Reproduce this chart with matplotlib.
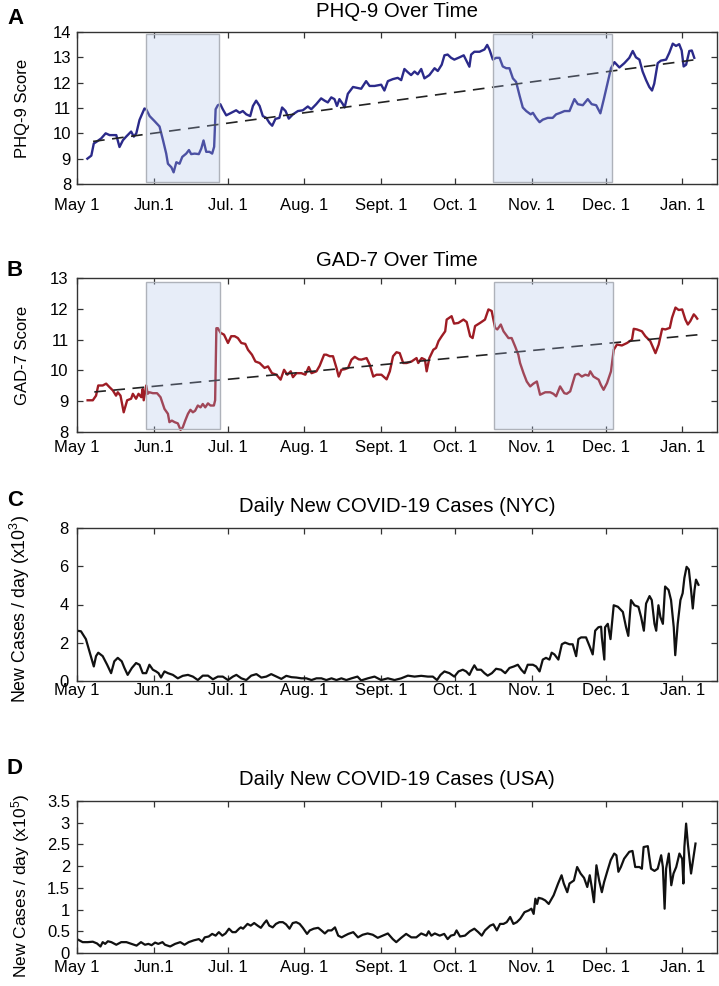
import matplotlib
matplotlib.use("Agg")
import matplotlib.pyplot as plt
from matplotlib.patches import Rectangle
import numpy as np

plt.rcParams['font.family'] = ['Liberation Sans', 'DejaVu Sans']
plt.rcParams['mathtext.fontset'] = 'custom'
plt.rcParams['mathtext.rm'] = 'Liberation Sans'
plt.rcParams['mathtext.it'] = 'Liberation Sans:italic'

# ---------------- data (days since May 1) ----------------
month_ticks = [0, 31, 61, 92, 123, 153, 184, 214, 245]
month_labels = ['May 1', 'Jun.1', 'Jul. 1', 'Aug. 1', 'Sept. 1', 'Oct. 1', 'Nov. 1', 'Dec. 1', 'Jan. 1']

phq_days = [4.2, 5.8, 6.8, 7.8, 9.8, 11.6, 13.2, 15.9, 17.2, 18.6, 19.9, 21.9, 23.0, 24.0, 25.3, 27.3, 28.0,
            29.4, 31.4, 33.4, 34.8, 36.1, 36.8, 38.2, 39.1, 40.2, 41.5, 42.6, 44.2, 45.3, 46.2, 47.6, 49.3,
            50.3, 51.2, 52.3, 53.6, 54.7, 55.5, 56.1, 57.0, 58.0, 59.0, 60.4, 62.4, 64.4, 65.8, 67.1, 68.5,
            70.1, 71.2, 72.5, 73.9, 75.2, 76.6, 77.9, 79.0, 80.3, 81.9, 83.0, 84.4, 85.7, 87.4, 89.4, 91.4,
            93.4, 94.8, 96.8, 98.8, 100.2, 101.5, 102.9, 104.2, 105.2, 106.2, 107.6, 108.3, 109.6, 111.7,
            113.6, 115.0, 117.0, 118.4, 120.4, 123.1, 124.4, 125.8, 127.8, 129.8, 131.2, 132.5, 133.9,
            135.2, 136.6, 137.9, 139.3, 140.6, 142.6, 144.7, 146.0, 147.6, 148.7, 150.0, 151.4, 152.7,
            154.8, 156.5, 158.1, 158.8, 159.5, 160.8, 162.9, 164.9, 166.0, 166.9, 168.3, 169.6, 171.0,
            172.3, 173.7, 175.0, 176.4, 177.7, 179.1, 180.4, 181.8, 183.6, 184.5, 185.8, 187.2, 188.5,
            190.5, 192.5, 193.9, 195.6, 197.3, 199.3, 201.3, 202.7, 204.7, 206.7, 208.3, 210.1, 211.8,
            213.2, 214.8, 216.1, 217.5, 219.5, 221.5, 223.5, 224.9, 226.2, 227.6, 228.9, 230.3, 231.6,
            232.7, 233.6, 235.0, 236.3, 238.4, 239.7, 241.1, 242.4, 243.7, 244.7, 245.5, 246.5, 247.8,
            248.8, 249.8]
phq_vals = [9.0, 9.12, 9.6, 9.66, 9.8, 10.0, 9.93, 9.93, 9.46, 9.73, 9.87, 10.07, 9.87, 10.0, 10.53, 10.98, 10.95,
            10.68, 10.48, 10.27, 9.73, 9.2, 8.8, 8.66, 8.46, 8.86, 8.8, 9.07, 9.2, 9.34, 9.18, 9.2, 9.18,
            9.4, 9.72, 9.27, 9.27, 9.2, 9.47, 10.95, 11.11, 11.15, 10.95, 10.71, 10.81, 10.91, 10.81, 10.88, 10.75,
            10.68, 11.08, 11.29, 11.08, 10.68, 10.61, 10.41, 10.3, 10.57, 10.61, 11.02, 10.88, 10.58, 10.75, 10.88, 10.91,
            11.06, 10.95, 11.15, 11.38, 11.29, 11.22, 11.42, 11.35, 11.08, 11.35, 11.15, 11.02, 11.56, 11.83,
            11.79, 11.76, 12.06, 11.87, 11.87, 11.92, 11.69, 12.06, 12.14, 12.19, 12.1, 12.54, 12.41,
            12.3, 12.44, 12.33, 12.54, 12.17, 12.3, 12.57, 12.46, 12.71, 13.08, 13.11, 12.98, 12.91,
            13.0, 13.08, 12.77, 12.63, 13.11, 13.22, 13.22, 13.31, 13.49, 13.31, 12.91, 12.98, 12.98,
            12.64, 12.57, 12.57, 12.17, 12.03, 11.49, 11.02, 10.88, 10.75, 10.81, 10.61, 10.44, 10.54,
            10.61, 10.61, 10.75, 10.81, 10.88, 10.88, 11.35, 11.15, 11.11, 11.35, 11.15, 11.11, 10.79,
            11.35, 12.03, 12.57, 12.81, 12.6, 12.77, 12.98, 13.25, 13.0, 12.91, 12.44, 12.1, 11.83,
            11.69, 11.96, 12.77, 12.87, 12.91, 13.18, 13.54, 13.45, 13.52, 13.27, 12.64, 12.71, 13.25,
            13.27, 12.98]

gad_days = [4.3, 6.4, 7.7, 8.6, 10.4, 11.8, 13.1, 14.5, 15.8, 16.5, 17.6, 18.9, 20.3, 21.9, 22.6, 23.9, 24.9,
            26.0, 26.6, 27.0, 28.0, 28.6, 29.3, 30.7, 32.4, 33.8, 35.4, 36.8, 37.4, 38.4, 39.5, 40.8, 41.9,
            42.8, 43.8, 44.9, 45.9, 46.9, 47.8, 48.9, 50.0, 50.9, 51.9, 53.0, 54.0, 55.4, 55.9, 56.4, 57.0,
            58.1, 59.5, 61.1, 62.4, 63.8, 65.1, 66.5, 68.1, 69.2, 70.8, 72.2, 73.9, 75.9, 77.3, 78.9, 80.7,
            82.4, 83.8, 85.1, 86.5, 87.4, 88.8, 90.8, 92.4, 93.8, 94.9, 96.9, 98.2, 100.0, 100.9, 102.3,
            103.6, 105.0, 105.9, 107.0, 108.4, 109.7, 111.1, 112.4, 114.0, 115.1, 117.2, 118.5, 119.9,
            121.2, 123.2, 125.3, 126.6, 127.9, 129.3, 130.6, 132.0, 133.4, 135.4, 137.4, 138.1, 139.5,
            140.8, 141.5, 142.6, 144.2, 145.3, 146.3, 147.6, 149.0, 149.6, 151.6, 152.6, 154.3, 156.4,
            157.7, 159.1, 160.1, 161.1, 163.1, 165.1, 166.5, 167.8, 169.2, 170.1, 171.5, 172.6, 174.6,
            175.9, 177.3, 178.6, 179.3, 180.7, 182.0, 183.4, 184.7, 186.1, 187.4, 189.5, 191.5, 192.8,
            193.9, 195.5, 197.2, 198.2, 199.6, 201.6, 202.9, 204.3, 205.7, 207.0, 207.7, 209.0, 211.1,
            212.0, 213.1, 214.5, 216.1, 217.2, 218.5, 220.5, 222.6, 224.6, 225.3, 226.6, 228.6, 230.0,
            232.0, 234.1, 235.4, 236.8, 238.1, 239.9, 240.8, 242.2, 243.5, 244.9, 246.2, 247.2, 248.2,
            249.6, 250.3, 251.0]
gad_vals = [9.03, 9.03, 9.18, 9.51, 9.51, 9.57, 9.46, 9.35, 9.18, 9.29, 9.18, 8.64, 9.03, 9.08, 9.24, 9.08, 9.24,
            9.13, 9.4, 9.03, 9.51, 9.24, 9.29, 9.26, 9.26, 9.13, 8.75, 8.59, 8.32, 8.37, 8.32, 8.28, 8.07,
            8.15, 8.37, 8.59, 8.72, 8.64, 8.69, 8.86, 8.8, 8.91, 8.8, 8.93, 8.86, 8.86, 9.03, 11.37, 11.37,
            11.22, 11.16, 10.89, 11.11, 11.11, 11.05, 10.89, 10.86, 10.67, 10.51, 10.29, 10.24, 10.08, 10.13, 9.91, 9.86,
            9.7, 10.02, 9.86, 9.97, 9.78, 9.91, 9.91, 9.86, 10.11, 9.91, 9.97, 10.15, 10.51, 10.51, 10.46,
            10.46, 10.08, 9.8, 10.02, 10.04, 10.08, 10.35, 10.44, 10.36, 10.35, 10.4, 10.18, 9.8,
            9.86, 9.86, 9.71, 9.97, 10.46, 10.59, 10.56, 10.24, 10.24, 10.29, 10.4, 10.24, 10.4,
            10.35, 9.97, 10.4, 10.67, 10.73, 10.95, 11.11, 11.27, 11.65, 11.76, 11.52, 11.54, 11.65,
            11.57, 11.11, 11.05, 11.44, 11.54, 11.65, 11.98, 11.93, 11.38, 11.33, 11.49, 11.27, 11.05,
            11.05, 10.78, 10.51, 10.24, 9.91, 9.64, 9.48, 9.57, 9.64, 9.21, 9.29, 9.29, 9.24,
            9.16, 9.48, 9.26, 9.24, 9.32, 9.86, 9.89, 9.8, 9.86, 9.83, 9.97, 9.8, 9.7,
            9.53, 9.37, 9.59, 9.97, 10.67, 10.84, 10.81, 10.89, 11.0, 11.35, 11.33, 11.27, 11.11,
            10.95, 10.56, 10.84, 11.35, 11.33, 11.38, 11.71, 12.04, 11.96, 11.98, 11.65, 11.49, 11.6,
            11.82, 11.76, 11.68]

trend_days = [6.5, 252.0]
phq_trend_vals = [9.68, 12.93]
gad_trend_days = [7.0, 253.0]
gad_trend_vals = [9.30, 11.17]

phq_windows = [(27.8, 57.5), (168.3, 216.4)]
gad_windows = [(28.0, 57.8), (168.8, 217.0)]

nyc_days = [0, 1.6, 3.6, 5.4, 6.8, 7.7, 8.6, 10.4, 12.2, 13.8, 15.1, 16.5, 18.1, 19.2, 20.5, 22.2, 23.9, 25.3,
            26.6, 28.0, 29.3, 30.7, 32.0, 33.0, 34.0, 35.4, 36.8, 38.8, 40.8, 42.8, 44.9, 46.9, 48.9, 50.9,
            53.0, 55.0, 57.0, 59.0, 61.1, 63.1, 64.5, 66.5, 68.5, 70.5, 72.6, 74.6, 76.6, 78.6, 80.7, 82.7,
            84.7, 86.8, 88.8, 90.8, 92.8, 94.9, 96.9, 98.9, 100.9, 103.0, 105.0, 107.0, 109.0, 111.1, 113.5,
            115.0, 117.7, 120.4, 123.1, 125.8, 128.5, 131.2, 133.9, 136.6, 139.3, 142.0, 144.0, 145.7,
            147.1, 148.7, 150.7, 152.7, 154.4, 156.1, 157.5, 158.8, 159.8, 160.8, 161.9, 163.5, 164.9,
            166.2, 167.9, 169.6, 171.6, 173.3, 175.0, 176.8, 178.4, 179.8, 181.1, 182.4, 184.5, 185.8,
            187.2, 188.5, 189.8, 191.2, 192.1, 193.2, 194.8, 196.2, 197.5, 199.3, 200.6, 202.0, 202.9,
            204.0, 206.0, 207.4, 208.7, 209.7, 211.0, 212.1, 212.4, 213.4, 213.7, 214.8, 215.9, 217.2,
            218.9, 220.9, 222.2, 223.1, 224.2, 225.6, 227.2, 228.3, 229.4, 230.3, 231.7, 232.6, 233.7,
            234.4, 235.3, 236.1, 237.1, 238.0, 239.4, 240.4, 241.5, 242.1, 243.1, 244.2, 245.1, 245.8,
            246.7, 247.6, 248.5, 249.2, 249.9, 250.5, 251.5]
nyc_vals = [2.63, 2.6, 2.19, 1.39, 0.76, 1.3, 1.48, 1.3, 0.85, 0.41, 1.03, 1.21, 1.03, 0.68, 0.32, 0.68, 0.94, 0.85,
            0.41, 0.41, 0.85, 0.59, 0.5, 0.41, 0.18, 0.5, 0.41, 0.32, 0.14, 0.27, 0.32, 0.23, 0.05, 0.28,
            0.28, 0.09, 0.23, 0.23, 0.05, 0.23, 0.32, 0.14, 0.05, 0.28, 0.36, 0.18, 0.23, 0.36, 0.23, 0.11,
            0.27, 0.2, 0.18, 0.14, 0.14, 0.05, 0.14, 0.14, 0.05, 0.14, 0.05, 0.14, 0.05, 0.14, 0.23,
            0.03, 0.14, 0.23, 0.05, 0.14, 0.05, 0.14, 0.28, 0.23, 0.27, 0.23, 0.23, 0.05,
            0.32, 0.5, 0.41, 0.23, 0.5, 0.59, 0.5, 0.32, 0.59, 0.82, 0.59, 0.59, 0.41,
            0.28, 0.41, 0.64, 0.59, 0.41, 0.68, 0.76, 0.85, 0.59, 0.41, 0.85, 0.85, 0.76,
            0.5, 1.12, 1.21, 1.12, 1.48, 1.39, 1.12, 1.92, 2.01, 1.92, 1.92, 1.3, 2.19,
            2.28, 2.28, 1.83, 1.39, 2.63, 2.81, 2.84, 2.28, 1.12, 2.81, 2.99, 2.19, 3.96,
            3.88, 3.61, 2.81, 2.36, 4.23, 3.96, 3.88, 3.34, 2.63, 4.05, 4.44, 4.23, 2.99,
            2.63, 3.96, 3.34, 2.99, 4.94, 4.76, 4.23, 2.81, 1.35, 2.99, 4.23, 4.59, 5.39,
            5.97, 5.83, 4.76, 3.79, 4.76, 5.3, 5.03]

usa_days = [0, 1.0, 2.3, 4.3, 6.4, 8.1, 9.5, 10.4, 11.4, 12.5, 13.9, 15.9, 17.9, 20.0, 22.0, 24.1, 25.9, 27.5,
            28.9, 30.2, 31.6, 32.9, 34.6, 35.6, 37.7, 39.7, 41.8, 43.5, 45.2, 47.2, 49.3, 50.6, 51.7, 53.3,
            54.7, 56.1, 57.4, 58.8, 60.1, 61.5, 62.9, 64.2, 65.6, 66.3, 67.2, 69.0, 70.3, 71.7, 73.1, 74.4,
            75.8, 76.7, 77.8, 79.2, 80.5, 81.9, 83.3, 84.6, 86.0, 87.3, 88.7, 90.1, 91.4, 93.1, 94.2, 95.8,
            97.6, 98.9, 100.3, 101.6, 103.0, 104.4, 105.7, 107.1, 108.4, 109.8, 111.8, 113.7, 115.6, 117.6,
            119.7, 121.7, 123.7, 125.8, 127.8, 129.2, 131.2, 133.2, 135.3, 137.3, 139.3, 141.4, 142.3,
            143.4, 144.8, 146.8, 148.6, 150.0, 151.3, 152.7, 153.6, 155.0, 157.0, 159.0, 160.8, 162.4,
            163.8, 165.1, 167.2, 168.5, 169.9, 171.2, 172.6, 173.9, 175.3, 176.6, 178.0, 179.4, 181.1,
            182.8, 183.9, 184.8, 185.5, 186.2, 186.8, 188.2, 189.5, 190.9, 192.9, 194.7, 196.1, 197.0,
            198.4, 199.3, 201.1, 202.4, 203.8, 205.2, 206.5, 207.5, 208.3, 209.2, 210.2, 211.3, 212.4,
            213.3, 214.7, 216.0, 217.4, 218.3, 219.1, 220.1, 221.4, 223.5, 224.8, 225.9, 227.6, 228.6,
            229.3, 231.0, 231.6, 232.3, 233.7, 235.0, 236.4, 237.1, 237.8, 238.4, 239.5, 240.5, 241.4,
            242.5, 243.8, 244.9, 245.4, 245.8, 246.5, 247.2, 248.5, 249.2, 250.3]
usa_vals = [0.32, 0.29, 0.25, 0.25, 0.26, 0.22, 0.15, 0.25, 0.21, 0.27, 0.25, 0.19, 0.25, 0.25, 0.21, 0.17, 0.25, 0.19,
            0.21, 0.18, 0.24, 0.21, 0.25, 0.19, 0.15, 0.21, 0.25, 0.19, 0.25, 0.29, 0.32, 0.26, 0.36, 0.38,
            0.44, 0.4, 0.48, 0.4, 0.45, 0.56, 0.48, 0.48, 0.56, 0.59, 0.56, 0.67, 0.63, 0.69, 0.63, 0.58,
            0.69, 0.75, 0.63, 0.59, 0.67, 0.71, 0.71, 0.66, 0.56, 0.69, 0.71, 0.67, 0.58, 0.44, 0.52, 0.56,
            0.58, 0.52, 0.45, 0.52, 0.52, 0.59, 0.4, 0.36, 0.4, 0.44, 0.48, 0.36, 0.42, 0.45,
            0.42, 0.35, 0.4, 0.45, 0.32, 0.25, 0.35, 0.44, 0.36, 0.36, 0.45, 0.4, 0.5,
            0.4, 0.45, 0.4, 0.44, 0.32, 0.4, 0.42, 0.52, 0.38, 0.4, 0.5, 0.56, 0.48,
            0.4, 0.52, 0.63, 0.66, 0.52, 0.67, 0.67, 0.71, 0.83, 0.67, 0.71, 0.79, 0.94,
            0.98, 1.02, 0.9, 1.25, 1.13, 1.27, 1.25, 1.21, 1.13, 1.33, 1.6, 1.79, 1.6,
            1.4, 1.6, 1.67, 1.98, 1.83, 1.73, 1.52, 1.79, 1.52, 1.17, 2.02, 1.67, 1.4,
            1.63, 1.9, 2.14, 2.29, 2.25, 1.87, 1.98, 2.17, 2.33, 2.35, 1.98, 1.98, 1.94,
            2.44, 2.46, 2.21, 1.94, 1.89, 1.94, 2.25, 1.98, 1.02, 1.94, 2.29, 1.56, 1.83,
            1.98, 2.29, 2.17, 1.6, 2.44, 2.98, 2.52, 1.83, 2.1, 2.52]

# ---------------- figure ----------------
W, H = 719, 986
fig = plt.figure(figsize=(W / 100, H / 100), dpi=100)

def make_ax(top_px, bot_px):
    left, right = 77, 717
    return fig.add_axes([left / W, 1 - bot_px / H, (right - left) / W, (bot_px - top_px) / H])

axA = make_ax(32, 184)
axB = make_ax(278, 432)
axC = make_ax(528, 681)
axD = make_ax(801, 953)

frame_col = '#333333'
TICK_FS = 12
TITLE_FS = 14.7

def style(ax, xpad, ypad):
    ax.set_xlim(0, 259)
    ax.set_xticks(month_ticks)
    ax.set_xticklabels(month_labels)
    ax.tick_params(direction='in', top=True, right=True, length=4.5, width=0.9,
                   labelsize=TICK_FS, color=frame_col)
    ax.tick_params(axis='x', pad=xpad)
    ax.tick_params(axis='y', pad=ypad)
    for s in ax.spines.values():
        s.set_linewidth(1.0)
        s.set_color(frame_col)

patch_face = '#a8bde8'
patch_alpha = 0.27

def windows(ax, wins, y0, y1):
    for x0, x1 in wins:
        ax.add_patch(Rectangle((x0, y0), x1 - x0, y1 - y0, facecolor=patch_face, alpha=patch_alpha,
                               edgecolor='none', zorder=3))
        ax.add_patch(Rectangle((x0, y0), x1 - x0, y1 - y0, facecolor='none',
                               edgecolor='#aeb2ba', lw=1.0, zorder=3))

# Panel A
axA.plot(phq_days, phq_vals, color='#2b2a8a', lw=1.7, zorder=2)
axA.plot(trend_days, phq_trend_vals, color='#222222', lw=1.2, dashes=(7, 4.5), zorder=2)
windows(axA, phq_windows, 8.07, 13.92)
axA.set_ylim(8, 14)
axA.set_yticks(range(8, 15))
axA.set_ylabel('PHQ-9 Score', fontsize=12)
axA.yaxis.set_label_coords(-0.073, 0.5)
axA.set_title('PHQ-9 Over Time', fontsize=TITLE_FS, pad=10.5)
style(axA, 10, 4.3)

# Panel B
axB.plot(gad_days, gad_vals, color='#9e1c24', lw=1.7, zorder=2)
axB.plot(gad_trend_days, gad_trend_vals, color='#222222', lw=1.2, dashes=(7, 4.5), zorder=2)
windows(axB, gad_windows, 8.09, 12.87)
axB.set_ylim(8, 13)
axB.set_yticks(range(8, 14))
axB.set_ylabel('GAD-7 Score', fontsize=12)
axB.yaxis.set_label_coords(-0.073, 0.5)
axB.set_title('GAD-7 Over Time', fontsize=TITLE_FS, pad=8.5)
style(axB, 5.5, 6)

# Panel C
axC.plot(nyc_days, nyc_vals, color='#111111', lw=1.6)
axC.set_ylim(0, 8)
axC.set_yticks([0, 2, 4, 6, 8])
axC.set_ylabel(r'New Cases / day (x10$^{3}$)', fontsize=12.8)
axC.yaxis.set_label_coords(-0.07, 0.47)
axC.set_title('Daily New COVID-19 Cases (NYC)', fontsize=TITLE_FS, pad=11.5)
style(axC, 1.5, 6)

# Panel D
axD.plot(usa_days, usa_vals, color='#111111', lw=1.6)
axD.set_ylim(0, 3.5)
axD.set_yticks([0, 0.5, 1, 1.5, 2, 2.5, 3, 3.5])
axD.set_yticklabels(['0', '0.5', '1', '1.5', '2', '2.5', '3', '3.5'])
axD.set_ylabel(r'New Cases / day (x10$^{5}$)', fontsize=12.5)
axD.yaxis.set_label_coords(-0.07, 0.44)
axD.set_title('Daily New COVID-19 Cases (USA)', fontsize=TITLE_FS, pad=11.5)
style(axD, 5, 5)

# panel letters
for letter, ypx in [('A', 8), ('B', 260), ('C', 490), ('D', 758)]:
    fig.text(7 / W, 1 - ypx / H, letter, fontsize=16, fontweight='bold', ha='left', va='top')

fig.savefig('out.png', dpi=100)
